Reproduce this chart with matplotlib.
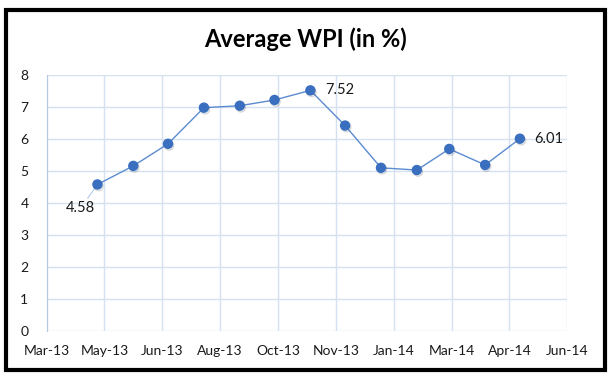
import datetime as dt
import matplotlib
matplotlib.use("Agg")
import matplotlib.pyplot as plt
import matplotlib.dates as mdates
from matplotlib.patches import Rectangle
from matplotlib import patheffects

# Data
months = [dt.date(2013, 4, 30), dt.date(2013, 5, 31), dt.date(2013, 6, 30),
          dt.date(2013, 7, 31), dt.date(2013, 8, 31), dt.date(2013, 9, 30),
          dt.date(2013, 10, 31), dt.date(2013, 11, 30), dt.date(2013, 12, 31),
          dt.date(2014, 1, 31), dt.date(2014, 2, 28), dt.date(2014, 3, 31),
          dt.date(2014, 4, 30)]
wpi = [4.58, 5.16, 5.85, 6.98, 7.04, 7.22, 7.52, 6.42, 5.10, 5.03, 5.69, 5.19, 6.01]

axis_start = dt.date(2013, 3, 17)
tick_step = 50  # days between major ticks
tick_dates = [axis_start + dt.timedelta(days=tick_step * i) for i in range(10)]

plt.rcParams['font.family'] = ['Lato', 'DejaVu Sans']

fig = plt.figure(figsize=(6.12, 3.77), dpi=100)
ax = fig.add_axes([0.076, 0.122, 0.851, 0.679])

grid_col = '#d5e1f1'
line_col = '#5b8bd0'
marker_col = '#3a6fbf'

# line, then markers with a soft shadow
ax.plot(months, wpi, color=line_col, lw=1.0, zorder=3)
ax.plot(months, wpi, ls='none', marker='o', markersize=6.5,
        markerfacecolor=marker_col, markeredgecolor=marker_col,
        path_effects=[patheffects.SimpleLineShadow(offset=(0.8, -1.2), alpha=0.2,
                                                   shadow_color='#333333'),
                      patheffects.Normal()], zorder=4)

ax.set_xlim(tick_dates[0], tick_dates[-1])
ax.set_ylim(0, 8)
ax.set_xticks(tick_dates)
ax.xaxis.set_major_formatter(mdates.DateFormatter('%b-%y'))
ax.set_yticks(range(0, 9))
ax.grid(True, color=grid_col, lw=1.0)
ax.set_axisbelow(True)
ax.tick_params(length=0, labelsize=10, colors='#1a1a1a')
ax.tick_params(axis='y', pad=13)
ax.tick_params(axis='x', pad=10)
for s in ['top', 'right', 'bottom']:
    ax.spines[s].set_visible(False)
ax.spines['left'].set_color('#b4c8e6')

# data labels
lbl = dict(fontsize=10.5, color='#1a1a1a', va='center')
ax.annotate(f'{wpi[0]:.2f}', xy=(months[0], wpi[0]), xytext=(-12, -17),
            textcoords='offset points', ha='center', **lbl,
            arrowprops=dict(arrowstyle='-', color='#b3c9ea', lw=0.8,
                            shrinkA=0, shrinkB=3))
ax.annotate(f'{wpi[6]:.2f}', xy=(months[6], wpi[6]), xytext=(11, 0),
            textcoords='offset points', ha='left', **lbl)
ax.annotate(f'{wpi[-1]:.2f}', xy=(months[-1], wpi[-1]), xytext=(10.5, 0),
            textcoords='offset points', ha='left', **lbl)

fig.text(0.5, 0.897, 'Average WPI (in %)', ha='center', va='center',
         fontsize=17, fontweight='bold', color='black')

# outer chart frame
fig.patches.append(Rectangle((6 / 612, 7 / 377), 599 / 612, 360 / 377,
                             transform=fig.transFigure, fill=False,
                             edgecolor='black', lw=3))

fig.savefig('out.png', dpi=100)
